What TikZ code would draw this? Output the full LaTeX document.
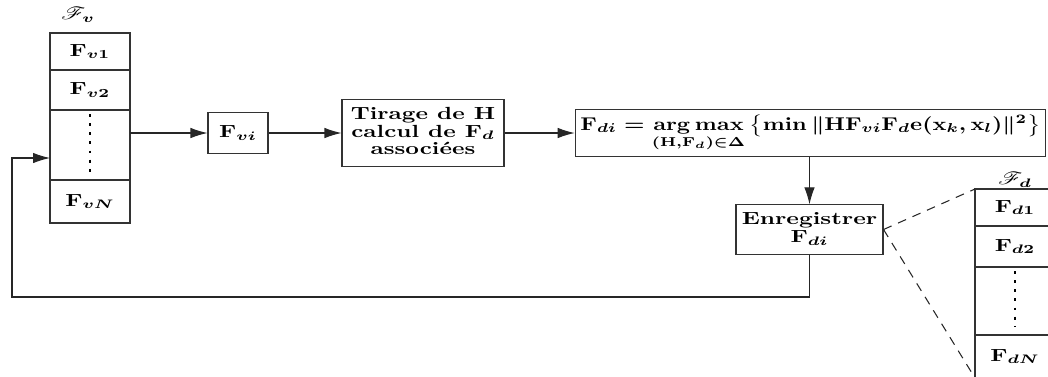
\documentclass[tikz,border=0pt]{standalone}
\usepackage{amsmath,amsfonts}
\usepackage{mathrsfs}
\usepackage{graphicx}
\usetikzlibrary{positioning,arrows.meta}

% text in this figure is set wide
\newcommand{\sx}[2][1.35]{\scalebox{#1}[1]{#2}}
\newcommand{\lines}[1]{\begin{tabular}{@{}c@{}}#1\end{tabular}}

\begin{document}
\begin{tikzpicture}[
    line width=0.6pt,
    >={Latex[length=3.4mm,width=2.1mm]},
    box/.style={draw=black!80, inner sep=3pt, font=\bfseries\boldmath},
    cell/.style={draw=black!80, minimum width=1.6cm, inner sep=0pt, outer sep=0pt, font=\boldmath},
    dots/.style={line width=1.6pt, dash pattern=on 1.6pt off 3.6pt},
    link/.style={->, draw=black!85},
    zoomline/.style={draw=black!85, dash pattern=on 5pt off 4pt}
]
    %\draw[help lines] (0,0) grid (21,7.5);
    \useasboundingbox (0,0) rectangle (20.96,7.52);
    \clip (0,0) rectangle (20.96,7.52);

    % the set F_v, one matrix per cell
    \node (setv) at (1.56,7.22) {\sx{$\mathscr{F}_{\boldsymbol{v}}$}};
    \node[cell, minimum height=0.74cm] (fv1) at (1.80,6.49) {\sx{$\mathbf{F}_{v1}$}};
    \node[cell, minimum height=0.80cm, below=0pt of fv1] (fv2) {\sx{$\mathbf{F}_{v2}$}};
    \node[cell, minimum height=1.40cm, below=0pt of fv2] (fvdots) {};
    \node[cell, minimum height=0.86cm, below=0pt of fvdots] (fvN) {\sx{$\mathbf{F}_{vN}$}};
    \draw[dots] ([yshift=-0.08cm]fvdots.north) -- ([yshift=0.16cm]fvdots.south);

    % processing chain
    \node[box, minimum width=1.2cm, minimum height=0.82cm] (fvi) at (4.76,4.86) {\sx{$\mathbf{F}_{vi}$}};
    \node[box, minimum width=3.24cm, minimum height=1.2cm] (tirage) at (8.46,4.86)
        {\sx{\lines{Tirage de $\mathbf{H}$\\[-2pt] calcul de $\mathbf{F}_d$\\[-2pt] associ\'ees}}};
    \node[box, minimum width=9.38cm, minimum height=0.9cm] (argmax) at (16.21,4.86)
        {\resizebox{9.2cm}{1.05\height}{$\mathbf{F}_{di} = \mathop{\mathrm{arg\,max}}\limits_{(\mathbf{H},\mathbf{F}_d)\in\Delta}
          \left\{\min \|\mathbf{H}\mathbf{F}_{vi}\mathbf{F}_d\mathbf{e}(\mathbf{x}_k,\mathbf{x}_l)\|^2\right\}$}};
    \node[box, minimum width=2.94cm, minimum height=0.9cm] (enreg) at (16.19,2.93)
        {\sx[1.36]{\lines{Enregistrer\\[-2pt] $\mathbf{F}_{di}$}}};

    \draw[link] (fvdots.east |- fvi) -- (fvi.west);
    \draw[link] (fvi.east) -- (tirage.west);
    \draw[link] (tirage.east) -- (argmax.west);
    \draw[link] (argmax.south -| enreg.north) -- (enreg.north);

    % loop back to the next F_v
    \coordinate (back) at (0.24,1.58);
    \draw[link] (enreg.south) |- (back) |- ([yshift=-0.26cm]fvdots.west);

    % the set F_d
    \node (setd) at (20.30,3.92) {\sx{$\mathscr{F}_{\boldsymbol{d}}$}};
    \node[cell, minimum height=0.74cm] (fd1) at (20.30,3.37) {\sx{$\mathbf{F}_{d1}$}};
    \node[cell, minimum height=0.82cm, below=0pt of fd1] (fd2) {\sx{$\mathbf{F}_{d2}$}};
    \node[cell, minimum height=1.36cm, below=0pt of fd2] (fddots) {};
    \node[cell, minimum height=0.86cm, below=0pt of fddots] (fdN) {\sx{$\mathbf{F}_{dN}$}};
    \draw[dots] ([yshift=-0.08cm]fddots.north) -- ([yshift=0.16cm]fddots.south);

    \draw[zoomline] (enreg.east) -- (fd1.north west);
    \draw[zoomline] (enreg.east) -- (fdN.south west);
\end{tikzpicture}
\end{document}
